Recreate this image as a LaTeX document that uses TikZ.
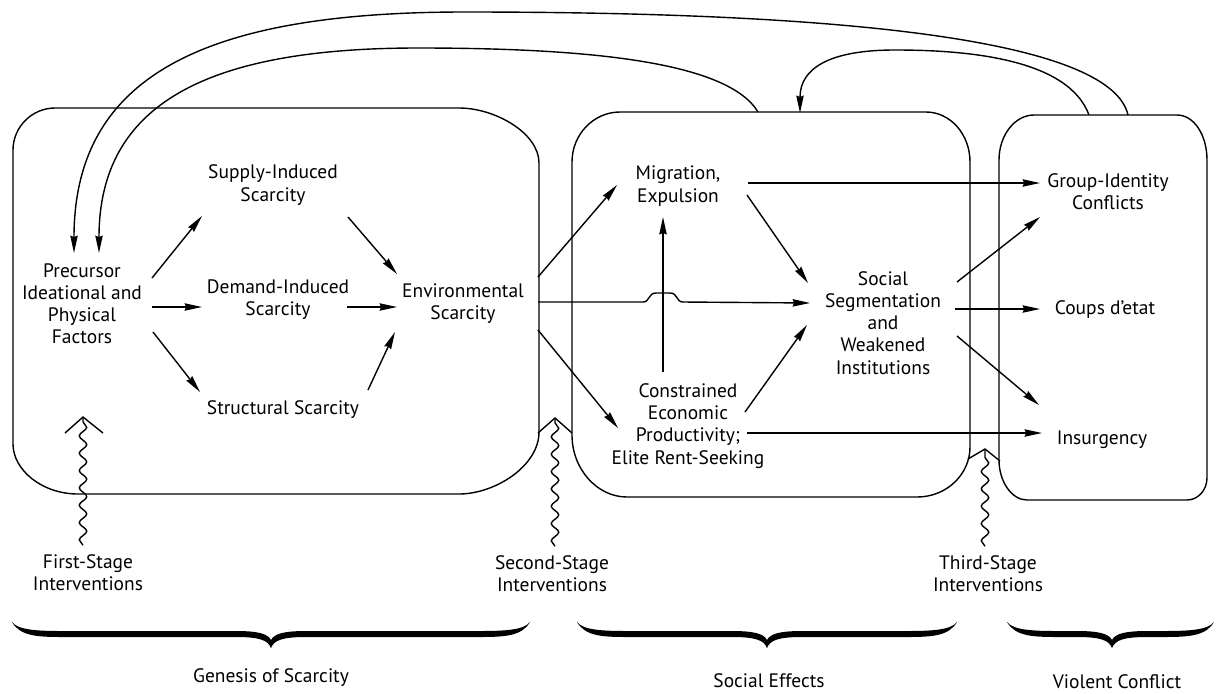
\documentclass[tikz,border=0pt]{standalone}
\usepackage{fontspec}
\setmainfont{PT Sans}
\usetikzlibrary{arrows.meta,decorations.pathmorphing,calc}
\tikzset{
  lbl/.style={align=center, font=\fontsize{14.6}{16.6}\selectfont, inner sep=1pt},
  boxline/.style={line width=1.05pt},
  arr/.style={line width=1.05pt, -{Stealth[length=13pt,width=5.5pt,inset=1pt]}},
  plain/.style={line width=1.05pt},
  snk/.style={line width=1.05pt, decorate, decoration={snake, amplitude=2.8pt, segment length=13pt}},
}
\newcommand\brc[3]{%
  \fill (#1,622) .. controls (#1+8,636) and (#1+25,637) .. (#1+50,637) -- (#2-35,637)
   .. controls (#2-12,637) and (#2-3,640) .. (#2,648)
   .. controls (#2+3,640) and (#2+12,637) .. (#2+35,637) -- (#3-50,637)
   .. controls (#3-25,637) and (#3-8,636) .. (#3,622)
   .. controls (#3-6,630) and (#3-25,631) .. (#3-50,631) -- (#2+35,631)
   .. controls (#2+12,631) and (#2+3,634) .. (#2,640)
   .. controls (#2-3,634) and (#2-12,631) .. (#2-35,631) -- (#1+50,631)
   .. controls (#1+25,631) and (#1+6,630) .. (#1,622) -- cycle;}
\begin{document}
\begin{tikzpicture}[x=0.75pt,y=-0.75pt]
\useasboundingbox (0,0) rectangle (1216,693);

% boxes
\draw[boxline] (13,150) .. controls (13,127) and (32,108) .. (55,108) -- (459,108)
  .. controls (495,108) and (539,133) .. (539,163) -- (539,432)
  .. controls (539,466) and (495,494) .. (459,494) -- (78,494)
  .. controls (42,494) and (13,470) .. (13,444) -- cycle;
\draw[boxline] (572,162) .. controls (572,134) and (594,112) .. (620,112) -- (926,112)
  .. controls (950,112) and (970,134) .. (970,162) -- (970,447)
  .. controls (970,474) and (947,497) .. (917,497) -- (627,497)
  .. controls (597,497) and (572,469) .. (572,435) -- cycle;
\draw[boxline] (999,160) .. controls (999,135) and (1015,115) .. (1034,115) -- (1177,115)
  .. controls (1194,115) and (1207,135) .. (1207,160) -- (1207,478)
  .. controls (1207,490) and (1198,500) .. (1187,500) -- (1027,500)
  .. controls (1012,500) and (999,482) .. (999,460) -- cycle;

% text nodes
\node[lbl] (prec) at (82,304) {Precursor\\Ideational and\\Physical\\Factors};
\node[lbl] (supply) at (273,185) {Supply-Induced\\Scarcity};
\node[lbl] (demand) at (278,300) {Demand-Induced\\Scarcity};
\node[lbl] (struct) at (283,410) {Structural Scarcity};
\node[lbl] (env) at (463,304) {Environmental\\Scarcity};
\node[lbl] (migr) at (678,186) {Migration,\\Expulsion};
\node[lbl] (constr) at (688,426) {Constrained\\Economic\\Productivity;\\Elite Rent-Seeking};
\node[lbl] (social) at (883,323) {Social\\Segmentation\\and\\Weakened\\Institutions};
\node[lbl] (group) at (1108,192) {Group-Identity\\Conflicts};
\node[lbl] (coups) at (1105,310) {Coups d’etat};
\node[lbl] (insur) at (1102,440) {Insurgency};
\node[lbl] (first) at (88,573) {First-Stage\\Interventions};
\node[lbl] (second) at (552,574) {Second-Stage\\Interventions};
\node[lbl] (third) at (988,574) {Third-Stage\\Interventions};
\node[lbl] (gen) at (271,678) {Genesis of Scarcity};
\node[lbl] (soceff) at (769,681) {Social Effects};
\node[lbl] (viol) at (1117,682) {Violent Conflict};

% arrows in box 1
\draw[arr] ($(prec)+(70,-26)$) -- ($(supply)+(-71,31)$);
\draw[arr] ($(prec)+(70,3)$) -- ($(demand)+(-76,7)$);
\draw[arr] ($(prec)+(71,28)$) -- ($(struct)+(-83,-18)$);
\draw[arr] ($(supply)+(75,32)$) -- ($(env)+(-66,-30)$);
\draw[arr] ($(demand)+(69,7)$) -- ($(env)+(-66,3)$);
\draw[arr] ($(struct)+(85,-20)$) -- ($(env)+(-68,28)$);

% arrows from environmental scarcity
\draw[arr] ($(env)+(75,-27)$) -- ($(migr)+(-61,-1)$);
\draw[arr] ($(env)+(75,-2)$) -- (643,302) .. controls (650,302) and (648,293) .. (656,293) -- (670,293)
  .. controls (678,293) and (676,302) .. (683,302) -- ($(social)+(-73,-20)$);
\draw[arr] ($(env)+(75,26)$) -- ($(constr)+(-70,2)$);

% box 2 arrows
\draw[arr] ($(constr)+(-25,-54)$) -- ($(migr)+(-15,31)$);
\draw[arr] ($(migr)+(69,9)$) -- ($(social)+(-75,-40)$);
\draw[arr] ($(constr)+(57,-14)$) -- ($(social)+(-76,2)$);
\draw[arr] ($(migr)+(70,-3)$) -- ($(group)+(-68,-9)$);
\draw[arr] ($(constr)+(59,7)$) -- ($(insur)+(-60,-7)$);
\draw[arr] ($(social)+(74,-41)$) -- ($(group)+(-68,25)$);
\draw[arr] ($(social)+(72,-14)$) -- ($(coups)+(-65,-1)$);
\draw[arr] ($(social)+(74,13)$) -- ($(insur)+(-63,-35)$);

% feedback curves
\coordinate (b3a) at (1128,115);
\coordinate (b3b) at (1089,115);
\coordinate (b2a) at (758,112);
\coordinate (b2b) at (800,113);
\draw[arr] (b3a) .. controls (1112,45) and (880,12) .. (465,12) .. controls (215,12) and (74,70) .. ($(prec)+(-8,-51)$);
\draw[arr] (b2a) .. controls (728,62) and (590,48) .. (418,48) .. controls (205,48) and (99,105) .. ($(prec)+(17,-51)$);
\draw[arr] (b3b) .. controls (1068,58) and (965,50) .. (895,50) .. controls (830,50) and (800,68) .. (b2b);

% interventions
\coordinate (c1) at (83,417);
\coordinate (c2) at (555,418);
\coordinate (c3) at (985,449);
\draw[snk] (first.north -| c1) ++(0,-8) -- (c1);
\draw[snk] (second.north -| c2) ++(0,-8) -- (c2);
\draw[snk] (third.north -| c3) ++(0,-8) -- (c3);
\draw[plain] (c1) ++(-18,16) -- (c1) -- ++(20,16);
\draw[plain] (c2) ++(-17,15) -- (c2) -- ++(17,15);
\draw[plain] (c3) ++(-17,10) -- (c3) -- ++(15,12);

% braces
\brc{12}{271}{530}
\brc{577}{767}{957}
\brc{1007}{1112}{1214}
\end{tikzpicture}
\end{document}
